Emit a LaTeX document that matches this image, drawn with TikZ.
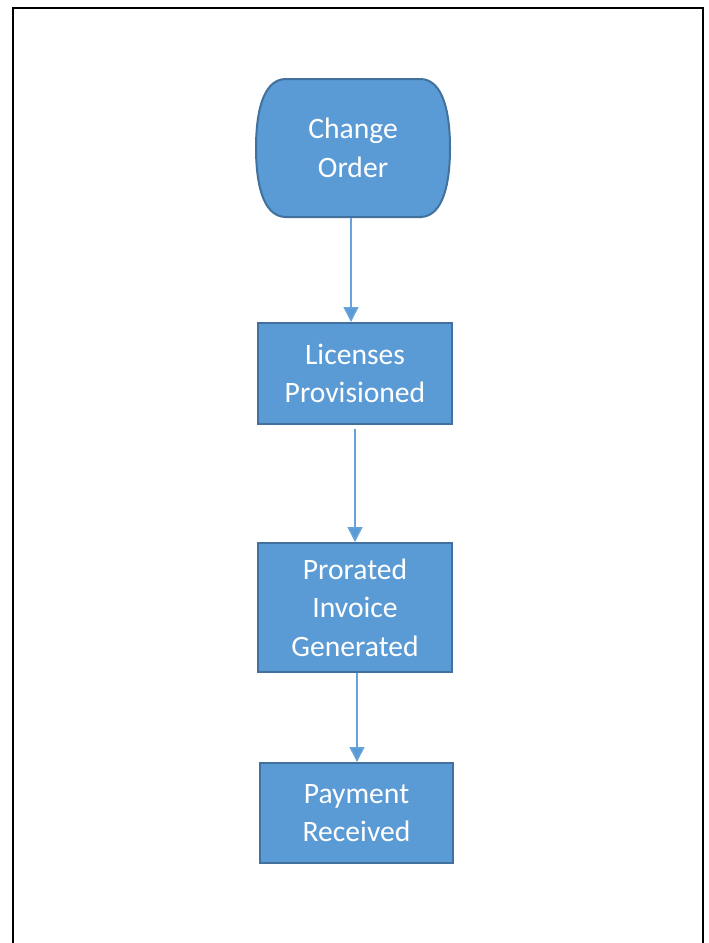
\documentclass[tikz,border=0pt]{standalone}
\usepackage{fontspec}
\setmainfont{Carlito}
\usetikzlibrary{arrows.meta}
\definecolor{boxfill}{RGB}{91,155,213}
\definecolor{boxline}{RGB}{65,113,156}
\definecolor{flowline}{RGB}{104,162,218}
\tikzset{
  stepbox/.style={draw=boxline, fill=boxfill, line width=1pt, text=white,
    align=center, font=\fontsize{14.8}{19.2}\selectfont, inner sep=0pt},
  flow/.style={draw=flowline, line width=0.8pt,
    -{Triangle[width=7.5pt,length=7.5pt,fill=boxfill]}},
}
\begin{document}
\begin{tikzpicture}[x=0.5pt,y=-0.5pt]
    \useasboundingbox (0,0) rectangle (708,943);
    % frame
    \draw[line width=1pt] (13,943) -- (13,8) -- (703,8) -- (703,943);
    % terminator shape
    \draw[draw=boxline, fill=boxfill, line width=1pt]
      (285,79) -- (421,79)
      .. controls (444,80) and (450,115) .. (450,148)
      .. controls (450,181) and (444,216) .. (421,217)
      -- (285,217)
      .. controls (262,216) and (256,181) .. (256,148)
      .. controls (256,115) and (262,80) .. (285,79) -- cycle;
    \node[stepbox, draw=none, fill=none, minimum width=97pt, minimum height=69pt]
      (order) at (353,148) {Change\\Order};
    \node[stepbox, minimum width=97pt, minimum height=50.5pt]
      (licenses) at (355,373.5) {Licenses\\Provisioned};
    \node[stepbox, minimum width=97pt, minimum height=64.5pt]
      (invoice) at (355,607.5) {Prorated\\Invoice\\Generated};
    \node[stepbox, minimum width=96.5pt, minimum height=50pt]
      (payment) at (356.5,813) {Payment\\Received};
    % connectors
    \draw[flow] ([xshift=-1pt]order.south) -- ([xshift=-1pt]order.south |- licenses.north);
    \draw[flow, shorten <=2pt] (licenses.south) -- (invoice.north);
    \draw[flow] ([xshift=1pt]invoice.south) -- ([xshift=1pt]invoice.south |- payment.north);
\end{tikzpicture}
\end{document}
